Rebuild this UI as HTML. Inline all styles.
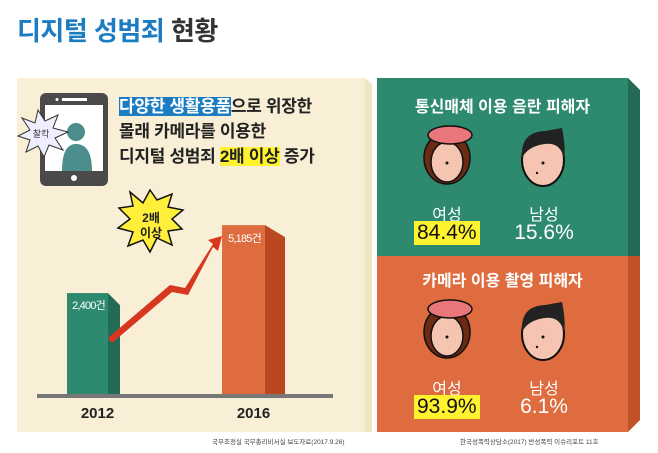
<!DOCTYPE html>
<html><head><meta charset="utf-8">
<style>
body{margin:0;width:658px;height:453px;background:#fff;overflow:hidden;font-family:"Liberation Sans","Noto Sans CJK KR",sans-serif;position:relative}
.a{position:absolute}
</style></head><body>
<div class="a" style="left:17px;top:11px;font-size:26px;font-weight:bold;color:#333;letter-spacing:-0.5px"><span style="color:#1b7cc1">디지털 성범죄</span> 현황</div>
<svg class="a" style="left:0;top:0" width="658" height="453">
  <rect x="17" y="78" width="348" height="354" fill="#f8efd6"/>
  <polygon points="365,78 372,84 372,432 365,432" fill="#f1e4c0"/>
  <rect x="377" y="78" width="251" height="178" fill="#2e8a6e"/>
  <polygon points="628,78 640,90 640,256 628,256" fill="#236b55"/>
  <rect x="377" y="256" width="251" height="176" fill="#de6c3f"/>
  <polygon points="628,256 640,256 640,420 628,432" fill="#c1522a"/>
  <rect x="40" y="93" width="68" height="93" rx="6" fill="#4a4a4a"/>
  <rect x="45" y="105" width="58" height="66" fill="#fff"/>
  <rect x="62" y="98" width="25" height="3" fill="#fff"/><circle cx="57" cy="99.5" r="1.5" fill="#fff"/>
  <circle cx="74" cy="178" r="3" fill="#fff"/>
  <circle cx="76" cy="132" r="9" fill="#4c8e8c"/><path d="M62 171 Q62 144 76 144 Q92 144 92 171Z" fill="#4c8e8c"/>
  <polygon points="22,118 35,123 38,110 45,121 58,115 53,128 68,132 55,138 63,150 49,145 44,157 38,146 26,152 30,140 18,136 30,130" fill="#eef" stroke="#333" stroke-width="1"/>
  <text x="41" y="137" font-size="9" text-anchor="middle" fill="#333">찰칵</text>
  <polygon points="130,192 143,203 150,190 157,200 172,194 168,207 183,210 172,219 182,229 168,231 172,245 157,238 150,252 143,240 128,246 133,232 118,228 130,219 119,208 133,206" fill="#ffef3a" stroke="#111" stroke-width="1.5"/>
  <text x="151" y="222" font-size="12" font-weight="bold" text-anchor="middle" fill="#222">2배</text>
  <text x="151" y="237" font-size="12" font-weight="bold" text-anchor="middle" fill="#222">이상</text>
  <g id="bars"></g>
  <polygon points="108,338 170,285 185,288 213,244 208,240 222,236 218,251 213,247 188,295 172,292 112,343" fill="#d8371f"/>
  <g id="faces"></g>
</svg>
<div class="a" style="left:119px;top:94px;font-size:17px;font-weight:bold;color:#222;line-height:25px;letter-spacing:-0.3px">
<span style="background:#1b7cc1;color:#fff">다양한 생활용품</span>으로 위장한<br>몰래 카메라를 이용한<br>디지털 성범죄 <span style="background:#fff22e">2배 이상</span> 증가</div>
<div class="a" style="left:377px;top:93px;width:251px;text-align:center;color:#fff;font-size:16px;font-weight:bold">통신매체 이용 음란 피해자</div>
<div class="a" style="left:377px;top:267px;width:251px;text-align:center;color:#fff;font-size:16px;font-weight:bold">카메라 이용 촬영 피해자</div>
<div id="labels"></div>
<div class="a" style="left:212px;top:436px;font-size:6.5px;color:#444">국무조정실 국무총리비서실 보도자료(2017.9.26)</div>
<div class="a" style="left:460px;top:436px;font-size:6.5px;color:#444">한국성폭력상담소(2017) 반성폭력 이슈리포트 11호</div>
<script>
const years=["2012","2016"];
const cases=[2400,5185];
const caseLabels=["2,400건","5,185건"];
const femaleShare=[84.4,93.9];
const maleShare=[15.6,6.1];
const NS="http://www.w3.org/2000/svg";
const base=395, v0=-1777, k=0.0244;
function y(v){return base-k*(v-v0);}
const barX=[67,222], cols=[["#2e8a6e","#236b55"],["#de6c3f","#b9471f"]];
const g=document.getElementById('bars');
function mk(tag,at,parent){const e=document.createElementNS(NS,tag);for(const a in at)e.setAttribute(a,at[a]);parent.appendChild(e);return e;}
cases.forEach((v,i)=>{
  const x=barX[i],top=y(v),w=i?43:41,s=i?20:12;
  const side=mk('polygon',{points:`${x+w},${top} ${x+w+s},${top+12} ${x+w+s},${base} ${x+w},${base}`,fill:cols[i][1]},g);
  
  
  const r=mk('rect',{x:x,y:top,width:w,height:base-top,fill:cols[i][0]},g);
  
  
  const t=mk('text',{x:x+w/2+1,y:top+(i?17:16),'font-size':11,fill:'#fff','text-anchor':'middle','letter-spacing':'-0.8'},g);
  t.textContent=caseLabels[i];
  
  
  const yl=mk('text',{x:x+w/2+10,y:418,'font-size':15,'font-weight':'bold',fill:'#222','text-anchor':'middle'},g);
  yl.textContent=years[i];
  
  
});
const bl=mk('rect',{x:37,y:394,width:296,height:4,fill:'#777'},g);


const fg=document.getElementById('faces');
[[148,0],[322,1]].forEach(([cy,p])=>{
  let f=mk('g',{},fg);
  
  
  mk('ellipse',{cx:447,cy:cy+10,rx:23,ry:26,fill:'#6b2a14',stroke:'#111','stroke-width':1.5},f);
  mk('ellipse',{cx:447,cy:cy+14,rx:16,ry:20,fill:'#f6c5b1',stroke:'#111','stroke-width':1.5},f);
  mk('ellipse',{cx:450,cy:cy-13,rx:22,ry:9,fill:'#e8767a',stroke:'#111','stroke-width':1.5},f);
  mk('circle',{cx:447,cy:cy+15,r:1.5,fill:'#111'},f);
  let m=mk('g',{},fg);
  
  
  mk('ellipse',{cx:543,cy:cy+12,rx:21,ry:26,fill:'#f6c5b1',stroke:'#111','stroke-width':2},m);
  mk('path',{d:`M522 ${cy+10} Q520 ${cy-16} 545 ${cy-17} L562 ${cy-20} Q566 ${cy} 564 ${cy+10} Q560 ${cy-6} 545 ${cy-4} Q528 ${cy-2} 522 ${cy+10}Z`,fill:'#222'},m);
  mk('circle',{cx:543,cy:cy+15,r:1.5,fill:'#111'},m);
  mk('circle',{cx:537,cy:cy+25,r:1.2,fill:'#111'},m);
});
const L=document.getElementById('labels');
function div(txt,css,name){const d=document.createElement('div');d.className='a';d.style.cssText=css;d.textContent=txt;
  
  
  L.appendChild(d);return d;}
[[0,201],[1,375]].forEach(([i,top])=>{
  div('여성',`left:417px;top:${top}px;width:60px;text-align:center;color:#fff;font-size:16px`,'female-label');
  div('남성',`left:514px;top:${top}px;width:60px;text-align:center;color:#fff;font-size:16px`,'male-label');
  div(femaleShare[i].toFixed(1)+'%',`left:414px;top:${top+20}px;padding:0 3px;background:#fff22e;color:#111;font-size:21px;line-height:24px`,'female-share');
  div(maleShare[i].toFixed(1)+'%',`left:503px;top:${top+20}px;width:82px;text-align:center;color:#fff;font-size:21px;line-height:24px`,'male-share');
});
</script>
</body></html>
